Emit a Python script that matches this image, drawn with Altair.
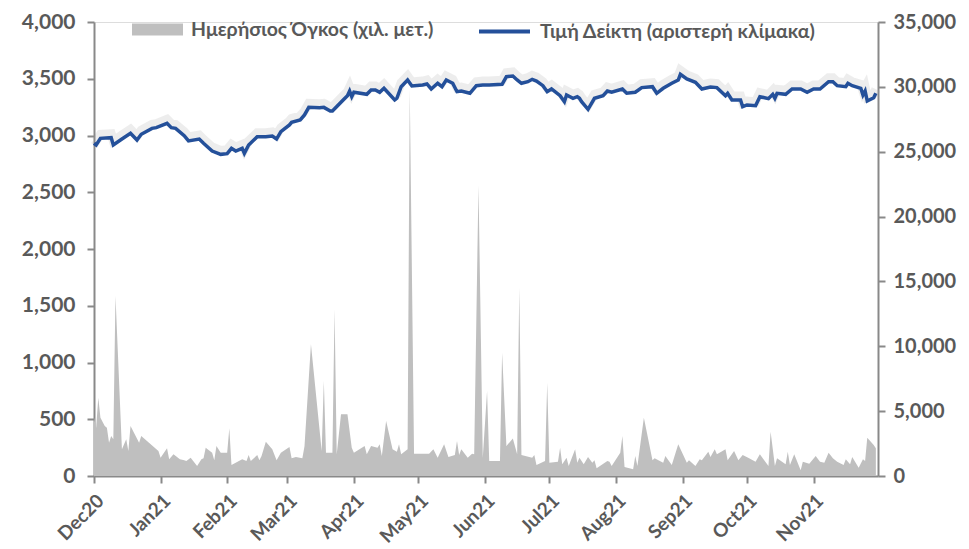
import altair as alt
import pandas as pd

LEG_VOL = "Ημερήσιος Όγκος (χιλ. μετ.)"
LEG_IDX = "Τιμή Δείκτη (αριστερή κλίμακα)"

idx_dates = [
    "2020-12-01", "2020-12-02", "2020-12-04", "2020-12-09", "2020-12-10", "2020-12-14",
    "2020-12-18", "2020-12-21", "2020-12-23", "2020-12-28", "2020-12-30", "2021-01-04",
    "2021-01-06", "2021-01-08", "2021-01-12", "2021-01-14", "2021-01-19", "2021-01-21",
    "2021-01-25", "2021-01-29", "2021-02-01", "2021-02-03", "2021-02-05", "2021-02-08",
    "2021-02-09", "2021-02-11", "2021-02-15", "2021-02-19", "2021-02-22", "2021-02-24",
    "2021-02-26", "2021-03-02", "2021-03-03", "2021-03-07", "2021-03-09", "2021-03-11",
    "2021-03-16", "2021-03-18", "2021-03-21", "2021-03-22", "2021-03-27", "2021-03-29",
    "2021-03-30", "2021-03-31", "2021-04-01", "2021-04-07", "2021-04-09", "2021-04-11",
    "2021-04-13", "2021-04-15", "2021-04-20", "2021-04-21", "2021-04-23", "2021-04-26",
    "2021-04-28", "2021-05-03", "2021-05-05", "2021-05-07", "2021-05-10", "2021-05-12",
    "2021-05-14", "2021-05-17", "2021-05-19", "2021-05-21", "2021-05-25", "2021-05-28",
    "2021-05-31", "2021-06-01", "2021-06-03", "2021-06-09", "2021-06-11", "2021-06-14",
    "2021-06-16", "2021-06-18", "2021-06-21", "2021-06-23", "2021-06-25", "2021-06-28",
    "2021-06-30", "2021-07-02", "2021-07-06", "2021-07-08", "2021-07-09", "2021-07-12",
    "2021-07-14", "2021-07-15", "2021-07-16", "2021-07-19", "2021-07-22", "2021-07-26",
    "2021-07-28", "2021-07-30", "2021-08-04", "2021-08-06", "2021-08-10", "2021-08-13",
    "2021-08-18", "2021-08-20", "2021-08-23", "2021-08-27", "2021-08-30", "2021-08-31",
    "2021-09-03", "2021-09-07", "2021-09-10", "2021-09-14", "2021-09-17", "2021-09-21",
    "2021-09-22", "2021-09-24", "2021-09-28", "2021-09-29", "2021-10-01", "2021-10-05",
    "2021-10-07", "2021-10-11", "2021-10-13", "2021-10-14", "2021-10-15", "2021-10-19",
    "2021-10-22", "2021-10-26", "2021-10-29", "2021-11-01", "2021-11-04", "2021-11-08",
    "2021-11-10", "2021-11-12", "2021-11-16", "2021-11-17", "2021-11-19", "2021-11-23",
    "2021-11-24", "2021-11-25", "2021-11-26", "2021-11-29", "2021-11-30",
]
idx_values = [
    2931, 2916, 2975, 2981, 2916, 2969,
    3019, 2960, 3011, 3063, 3069, 3107,
    3069, 3063, 2998, 2952, 2969, 2931,
    2863, 2834, 2840, 2887, 2863, 2887,
    2843, 2916, 2990, 2990, 2996, 2969,
    3034, 3093, 3116, 3137, 3181, 3248,
    3245, 3248, 3216, 3216, 3313, 3351,
    3392, 3342, 3381, 3363, 3401, 3401,
    3381, 3416, 3313, 3328, 3430, 3489,
    3436, 3445, 3454, 3410, 3460, 3430,
    3489, 3460, 3386, 3392, 3372, 3439,
    3445, 3445, 3445, 3451, 3518, 3524,
    3489, 3460, 3474, 3495, 3480, 3439,
    3386, 3410, 3351, 3298, 3357, 3328,
    3342, 3328, 3298, 3231, 3328, 3351,
    3392, 3381, 3410, 3372, 3381, 3422,
    3430, 3372, 3416, 3460, 3489, 3539,
    3498, 3469, 3410, 3427, 3422, 3351,
    3372, 3313, 3313, 3254, 3269, 3262,
    3342, 3325, 3363, 3328, 3372, 3363,
    3410, 3410, 3381, 3410, 3410, 3474,
    3474, 3439, 3430, 3460, 3439, 3416,
    3357, 3392, 3304, 3333, 3372,
]

vol_dates = [
    "2020-12-01", "2020-12-02", "2020-12-03", "2020-12-04", "2020-12-06", "2020-12-07",
    "2020-12-08", "2020-12-09", "2020-12-10", "2020-12-11", "2020-12-14", "2020-12-16",
    "2020-12-17", "2020-12-18", "2020-12-22", "2020-12-23", "2020-12-31", "2021-01-01",
    "2021-01-04", "2021-01-05", "2021-01-07", "2021-01-10", "2021-01-12", "2021-01-13",
    "2021-01-15", "2021-01-18", "2021-01-20", "2021-01-21", "2021-01-22", "2021-01-25",
    "2021-01-26", "2021-01-27", "2021-01-29", "2021-02-01", "2021-02-02", "2021-02-03",
    "2021-02-08", "2021-02-10", "2021-02-11", "2021-02-12", "2021-02-15", "2021-02-16",
    "2021-02-17", "2021-02-19", "2021-02-22", "2021-02-24", "2021-02-26", "2021-03-02",
    "2021-03-03", "2021-03-05", "2021-03-08", "2021-03-09", "2021-03-12", "2021-03-17",
    "2021-03-18", "2021-03-19", "2021-03-22", "2021-03-23", "2021-03-24", "2021-03-26",
    "2021-03-29", "2021-03-31", "2021-04-01", "2021-04-06", "2021-04-07", "2021-04-09",
    "2021-04-12", "2021-04-13", "2021-04-14", "2021-04-16", "2021-04-19", "2021-04-21",
    "2021-04-22", "2021-04-23", "2021-04-26", "2021-04-27", "2021-04-29", "2021-05-06",
    "2021-05-08", "2021-05-10", "2021-05-13", "2021-05-15", "2021-05-18", "2021-05-19",
    "2021-05-20", "2021-05-21", "2021-05-24", "2021-05-26", "2021-05-27", "2021-05-29",
    "2021-05-31", "2021-06-02", "2021-06-03", "2021-06-08", "2021-06-09", "2021-06-11",
    "2021-06-14", "2021-06-16", "2021-06-17", "2021-06-18", "2021-06-23", "2021-06-24",
    "2021-06-25", "2021-06-29", "2021-06-30", "2021-07-01", "2021-07-05", "2021-07-06",
    "2021-07-07", "2021-07-09", "2021-07-10", "2021-07-13", "2021-07-14", "2021-07-15",
    "2021-07-17", "2021-07-19", "2021-07-21", "2021-07-22", "2021-07-23", "2021-07-28",
    "2021-07-29", "2021-07-30", "2021-08-03", "2021-08-04", "2021-08-05", "2021-08-09",
    "2021-08-10", "2021-08-11", "2021-08-14", "2021-08-18", "2021-08-19", "2021-08-23",
    "2021-08-24", "2021-08-27", "2021-08-30", "2021-09-03", "2021-09-04", "2021-09-07",
    "2021-09-09", "2021-09-10", "2021-09-13", "2021-09-14", "2021-09-16", "2021-09-17",
    "2021-09-21", "2021-09-22", "2021-09-25", "2021-09-27", "2021-09-29", "2021-10-02",
    "2021-10-05", "2021-10-07", "2021-10-11", "2021-10-12", "2021-10-14", "2021-10-15",
    "2021-10-19", "2021-10-20", "2021-10-21", "2021-10-23", "2021-10-26", "2021-10-27",
    "2021-10-30", "2021-11-02", "2021-11-04", "2021-11-06", "2021-11-08", "2021-11-10",
    "2021-11-12", "2021-11-15", "2021-11-16", "2021-11-18", "2021-11-19", "2021-11-22",
    "2021-11-24", "2021-11-25", "2021-11-26", "2021-11-29", "2021-11-30",
]
vol_values = [
    4500, 3720, 6040, 4500, 3850, 3720,
    2570, 3080, 2830, 13880, 2060, 2830,
    1930, 3850, 2570, 3080, 1930, 1410,
    2130, 1290, 1670, 1290, 1210, 1160,
    1410, 770, 1290, 1360, 2180, 1800,
    1210, 2310, 1800, 1800, 3680, 850,
    1290, 1160, 1620, 1160, 1620, 1210,
    1540, 2640, 2060, 1210, 1800, 2240,
    1360, 1460, 1360, 2300, 10150, 1930,
    7320, 1800, 1800, 12850, 1670, 4760,
    4760, 2180, 1800, 2310, 1670, 2310,
    2180, 2440, 1540, 4240, 2060, 1870,
    2440, 1670, 2060, 29840, 1720, 1720,
    2060, 1410, 2440, 1460, 1620, 2700,
    1620, 2060, 1410, 1720, 1670, 22400,
    1410, 6550, 1160, 1160, 9510, 2310,
    2900, 1670, 14520, 1620, 1410, 1620,
    850, 1160, 7190, 1030, 1100, 2180,
    900, 1410, 770, 2060, 1030, 1410,
    900, 1460, 1030, 1210, 590, 1160,
    1100, 770, 1800, 3080, 690, 520,
    1540, 770, 4500, 1210, 1360, 1030,
    1540, 850, 2440, 1030, 1210, 770,
    1290, 1210, 1870, 1460, 2060, 1670,
    2060, 1210, 1930, 1210, 1620, 1360,
    1100, 1670, 770, 3420, 770, 1360,
    900, 1870, 850, 1670, 440, 1100,
    950, 1540, 1100, 1030, 1800, 1360,
    1100, 850, 1290, 900, 1460, 640,
    1290, 1160, 2950, 2390, 2130,
]

month_ticks = [(2020, 12)] + [(2021, m) for m in range(1, 12)]

idx_df = pd.DataFrame({"date": idx_dates, "value": idx_values, "series": LEG_IDX})
vol_df = pd.DataFrame({"date": vol_dates, "value": vol_values, "series": LEG_VOL})

FONT = "Lato"
TXT = "#595959"
AX = "#898989"

x_enc = alt.X(
    "date:T",
    title=None,
    scale=alt.Scale(
        type="utc",
        domain=[alt.DateTime(year=2020, month=12, date=1, utc=True),
                alt.DateTime(year=2021, month=12, date=1, utc=True)],
    ),
    axis=alt.Axis(
        values=[alt.DateTime(year=y, month=m, date=1, utc=True) for y, m in month_ticks],
        format="%b%y",
        labelAngle=-45,
        labelFont=FONT, labelFontSize=19, labelFontWeight="bold", labelColor=TXT,
        labelPadding=8, labelOverlap=False,
        domainColor=AX, domainWidth=2, tickColor=AX, tickWidth=2, tickSize=7,
        grid=False,
    ),
)

area = alt.Chart(vol_df).mark_area(interpolate="linear", color="#bfbfbf").encode(
    x=x_enc,
    y=alt.Y(
        "value:Q", title=None,
        scale=alt.Scale(domain=[0, 35000], nice=False),
        axis=alt.Axis(
            orient="right", values=list(range(0, 35001, 5000)), format=",.0f",
            labelFont=FONT, labelFontSize=20, labelFontWeight="bold", labelColor=TXT,
            labelPadding=8, domainColor=AX, domainWidth=2, tickColor=AX, tickWidth=2,
            tickSize=7, grid=False,
        ),
    ),
    fill=alt.Fill(
        "series:N",
        scale=alt.Scale(domain=[LEG_VOL], range=["#bfbfbf"]),
        legend=alt.Legend(
            title=None, orient="none", legendX=38, legendY=-18,
            symbolType="M-1,-0.24H1V0.24H-1Z", symbolSize=2600, symbolStrokeWidth=0,
            symbolOpacity=1,
            labelFont=FONT, labelFontSize=19.5, labelFontWeight="bold", labelColor=TXT,
            labelOffset=8, labelLimit=0,
        ),
    ),
)

shadow = alt.Chart(idx_df).transform_calculate(
    up="datum.value + 35"
).mark_line(strokeWidth=9, color="#9a9a9a", opacity=0.18, interpolate="linear").encode(
    x=x_enc,
    y=alt.Y("up:Q", title=None, scale=alt.Scale(domain=[0, 4000], nice=False), axis=None),
)

line = alt.Chart(idx_df).mark_line(strokeWidth=3.5, interpolate="linear").encode(
    x=x_enc,
    y=alt.Y(
        "value:Q", title=None,
        scale=alt.Scale(domain=[0, 4000], nice=False),
        axis=alt.Axis(
            orient="left", values=list(range(0, 4001, 500)), format=",.0f",
            labelFont=FONT, labelFontSize=21, labelFontWeight="bold", labelColor=TXT,
            labelPadding=12, domainColor=AX, domainWidth=2, tickColor=AX, tickWidth=2,
            tickSize=7, grid=False,
        ),
    ),
    stroke=alt.Stroke(
        "series:N",
        scale=alt.Scale(domain=[LEG_IDX], range=["#24509a"]),
        legend=alt.Legend(
            title=None, orient="none", legendX=383, legendY=-18,
            symbolType="stroke", symbolSize=2600, symbolStrokeWidth=4,
            labelFont=FONT, labelFontSize=19.5, labelFontWeight="bold", labelColor=TXT,
            labelOffset=8, labelLimit=0,
        ),
    ),
)

chart = alt.layer(area, shadow, line).resolve_scale(y="independent").properties(
    width=784,
    height=454,
    autosize=alt.AutoSizeParams(type="none"),
    padding={"left": 86, "top": 14, "right": 83, "bottom": 73},
).configure_view(stroke=None).configure(background="white")

chart.save("out.html", embed_options={"renderer": "svg", "actions": False})
